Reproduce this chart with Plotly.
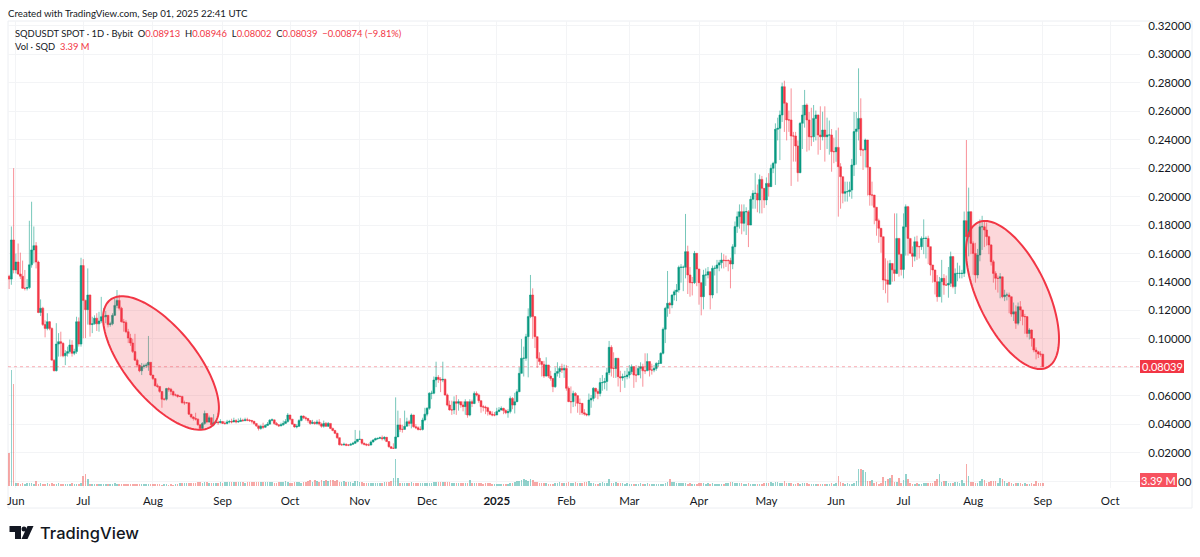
import math
import pandas as pd
import plotly.graph_objects as go

# Each line holds ten days, the first line starts on 2024-05-29
closes = [
.142,.1695,.1484,.154,.1456,.144,.1355,.1355,.136,.152,
.1625,.1655,.154,.1185,.1215,.110,.1073,.112,.1073,.085,
.0776,.0963,.098,.0968,.088,.0898,.091,.0956,.0898,.091,
.112,.0963,.1515,.127,.1205,.1308,.110,.1105,.1145,.1105,
.1125,.1155,.1155,.1165,.110,.1105,.1165,.1235,.127,.1215,
.112,.1115,.105,.1005,.097,.091,.085,.0815,.0775,.0805,
.081,.0815,.0835,.0745,.072,.067,.0665,.063,.0575,.0575,
.065,.0645,.063,.0605,.0605,.0595,.0595,.055,.055,.055,
.047,.045,.044,.0435,.0395,.037,.0405,.0475,.0415,.0445,
.0395,.041,.0415,.041,.0418,.0405,.0405,.0415,.0418,.0415,
.0425,.0415,.0418,.0428,.0425,.043,.0428,.0425,.042,.0405,
.0388,.037,.0385,.0378,.039,.04,.0428,.043,.0405,.0395,
.0388,.0395,.0405,.0418,.0464,.0435,.04,.038,.0385,.0425,
.0457,.0445,.044,.0425,.0405,.0412,.0405,.0415,.04,.0385,
.0405,.0385,.0405,.037,.0355,.0335,.0305,.0255,.0255,.0258,
.0252,.0252,.0258,.0265,.0277,.0293,.0293,.0265,.0258,.0253,
.0253,.0275,.0288,.0298,.03,.0305,.0298,.0307,.0277,.0241,
.023,.023,.031,.0394,.0363,.0363,.0385,.0417,.0405,.0464,
.0382,.0375,.0363,.0363,.0429,.047,.0511,.0617,.0617,.071,
.0729,.0715,.071,.0715,.0605,.0534,.05,.05,.0558,.0547,
.0558,.0535,.0523,.0558,.0464,.0558,.0545,.0616,.0605,.0565,
.0523,.052,.0515,.0488,.047,.0464,.0464,.0488,.05,.0511,
.0495,.048,.0488,.0581,.0534,.0558,.0628,.0757,.0863,.0863,
.1015,.1156,.1308,.1156,.1015,.0863,.084,.082,.0738,.0816,
.0738,.072,.0663,.0757,.077,.0792,.078,.0792,.0652,.0558,
.0558,.0616,.06,.0546,.0546,.048,.0471,.0465,.057,.0581,
.0652,.063,.0616,.0692,.0692,.07,.0762,.094,.0792,.0792,
.0863,.0734,.0725,.0734,.0734,.0745,.0769,.0804,.0745,.0745,
.0792,.0804,.0775,.0775,.084,.078,.078,.0792,.0827,.0827,
.0898,.1067,.1214,.125,.1238,.1308,.1331,.1343,.1503,.1503,
.1503,.1613,.1449,.1395,.1395,.1601,.1491,.1395,.1296,.1449,
.1449,.1472,.1308,.1496,.1496,.1519,.1535,.1554,.155,.155,
.155,.1526,.1648,.1789,.1859,.1894,.1812,.1894,.1894,.18,
.1981,.2023,.2023,.1976,.2121,.2058,.1976,.2093,.207,.2199,
.2234,.2473,.248,.2574,.2773,.2656,.2539,.2539,.2426,.2426,
.2356,.2168,.2515,.2574,.2644,.2539,.2421,.2421,.255,.2574,
.2433,.2421,.2468,.2421,.2433,.2433,.2316,.2316,.2346,.221,
.214,.2023,.2035,.2035,.2046,.2222,.2457,.2475,.255,.2328,
.2328,.2398,.2206,.2011,.2011,.1925,.1831,.1777,.1718,.1413,
.1413,.1383,.153,.1485,.146,.1706,.1595,.1488,.1788,.1929,
.1706,.1601,.158,.1683,.1648,.1648,.1706,.1706,.1706,.1648,
.1519,.1484,.1402,.1296,.1402,.1425,.1378,.1378,.139,.1578,
.1367,.146,.146,.146,.146,.1831,.1718,.1894,.1671,.16,
.1449,.1589,.1788,.1788,.1765,.1718,.166,.1542,.146,.1425,
.1425,.1436,.1296,.1308,.1308,.1296,.1174,.119,.1109,.1226,
.1203,.1156,.1156,.1038,.1062,.1002,.0921,.0909,.0893,.08913,
.08039,
]

highs = [
.145,.179,.220,.160,.167,.1606,.155,.1484,.142,.183,
.1964,.179,.168,.155,.1277,.1225,.113,.118,.1125,.108,
.0855,.111,.104,.105,.0975,.092,.0945,.0995,.099,.093,
.1155,.115,.157,.156,.1275,.1495,.131,.1155,.1165,.118,
.119,.1295,.1215,.1195,.1165,.112,.118,.1285,.1343,.131,
.1225,.114,.113,.107,.1035,.1,.1035,.086,.082,.083,
.0825,.083,.102,.0835,.0745,.072,.0685,.0665,.063,.0585,
.0655,.066,.0655,.0635,.0615,.0608,.06,.0598,.0565,.0555,
.0475,.0465,.0455,.048,.044,.04,.0415,.0495,.0475,.046,
.0445,.047,.0425,.0425,.0435,.042,.042,.043,.043,.0438,
.0445,.0435,.044,.0445,.0438,.0445,.0445,.0435,.043,.042,
.0405,.0385,.0395,.041,.04,.0415,.0435,.044,.043,.0415,
.04,.041,.0425,.0435,.0478,.0465,.0436,.0395,.04,.0435,
.046,.046,.0455,.0442,.0425,.043,.042,.043,.0435,.041,
.0425,.0415,.0415,.0405,.0375,.036,.034,.0305,.0265,.027,
.0265,.026,.0268,.0275,.0359,.0295,.0355,.0295,.027,.0265,
.0265,.0285,.0295,.0305,.0305,.0312,.032,.0315,.031,.028,
.0245,.0265,.0588,.0495,.0442,.0395,.0495,.0445,.043,.0475,
.0465,.04,.0385,.0385,.0445,.0515,.052,.0625,.0635,.0735,
.0839,.0745,.073,.0839,.072,.0615,.0565,.0565,.0595,.0605,
.0575,.0555,.056,.0575,.0558,.0575,.0572,.063,.063,.0615,
.0565,.0535,.053,.0522,.0495,.049,.0485,.0515,.052,.0525,
.0515,.0505,.0505,.0595,.059,.062,.0645,.08,.0999,.0945,
.1035,.1214,.1449,.1355,.1145,.1015,.0905,.0845,.0845,.087,
.0815,.0775,.0725,.0798,.0835,.0808,.0825,.0818,.0815,.0665,
.0665,.0635,.0625,.0605,.058,.0535,.0505,.0475,.0615,.0605,
.066,.0655,.0645,.0725,.0745,.0725,.0795,.0985,.0955,.0905,
.0863,.0795,.0775,.0755,.0775,.0795,.0815,.082,.0805,.0815,
.081,.0835,.0825,.0898,.0898,.0835,.0825,.0815,.0835,.085,
.0905,.108,.1225,.1477,.126,.1312,.1345,.1385,.1515,.1525,
.1515,.1878,.1655,.1505,.1435,.1618,.1575,.148,.136,.1485,
.1495,.1505,.1465,.1515,.1515,.1555,.1555,.1605,.1595,.1585,
.156,.157,.1665,.1825,.1895,.1945,.1945,.1945,.1925,.1905,
.2005,.2045,.2165,.2085,.2155,.2145,.2035,.2135,.2165,.2225,
.2245,.2515,.2555,.2605,.2801,.2815,.2665,.2605,.2761,.2455,
.2455,.2395,.2525,.2644,.275,.2655,.2595,.2625,.2644,.2605,
.2575,.2635,.2597,.2635,.2555,.2535,.2475,.2415,.2466,.2485,
.2235,.2105,.2105,.2105,.2105,.2265,.2595,.2595,.2902,.2691,
.2338,.2408,.2388,.214,.2105,.1955,.1864,.1845,.1725,.1648,
.1566,.155,.1555,.153,.1882,.1882,.1706,.1528,.1882,.1945,
.1935,.1695,.165,.1718,.1725,.1655,.172,.184,.172,.1725,
.1565,.1515,.1445,.1448,.1435,.1555,.1455,.1445,.1505,.1613,
.1575,.1495,.1535,.1515,.1485,.1895,.2398,.2063,.1775,.1685,
.1675,.1632,.184,.1865,.183,.1818,.1725,.1665,.1555,.1475,
.1445,.1462,.1385,.1345,.1325,.1325,.1215,.1255,.1235,.1255,
.1265,.1195,.1175,.1075,.1075,.1065,.0955,.094,.0915,.0913,
.08946,
]

lows = [
.135,.138,.146,.146,.145,.142,.135,.134,.134,.135,
.15,.153,.1495,.118,.116,.109,.101,.106,.106,.085,
.077,.077,.0875,.0875,.087,.0815,.0875,.0895,.0875,.0885,
.0895,.0945,.0945,.1003,.1005,.11,.1015,.104,.11,.1055,
.105,.111,.1125,.111,.108,.1085,.1095,.116,.1215,.12,
.1115,.105,.104,.097,.095,.09,.0845,.08,.0765,.0745,
.079,.0795,.0775,.074,.071,.0665,.0655,.062,.0515,.0565,
.0565,.0628,.0605,.0595,.0595,.0585,.059,.0545,.0535,.0545,
.0465,.044,.0425,.0425,.039,.0365,.0365,.0395,.0405,.041,
.0388,.0385,.0405,.0395,.0405,.04,.0395,.0398,.0405,.0405,
.0415,.0405,.041,.042,.0415,.042,.042,.0415,.0405,.0395,
.038,.0355,.036,.0365,.0375,.039,.0395,.042,.0395,.039,
.038,.0385,.039,.0405,.041,.0425,.0395,.0375,.037,.038,
.042,.0435,.0425,.041,.0395,.04,.0395,.0395,.039,.0375,
.0375,.038,.038,.0365,.035,.033,.0295,.025,.0248,.0248,
.0245,.0245,.025,.0255,.0262,.0272,.029,.0255,.025,.0245,
.0245,.025,.027,.0285,.029,.0295,.0285,.0285,.0275,.0235,
.0225,.0225,.0225,.031,.0345,.034,.0365,.0395,.0385,.037,
.0375,.0365,.0355,.0355,.0355,.042,.0455,.05,.0575,.061,
.066,.069,.0625,.0695,.06,.0525,.0495,.0465,.047,.0465,
.0495,.0515,.049,.0465,.0445,.0455,.052,.054,.0595,.055,
.048,.049,.047,.046,.0462,.0455,.0455,.047,.0488,.0495,
.047,.047,.0445,.0475,.0505,.0475,.0555,.0625,.0755,.0735,
.0845,.0729,.1145,.1,.0935,.0795,.0815,.0735,.0725,.0735,
.0725,.0705,.0625,.0655,.0735,.0725,.076,.0725,.0635,.0555,
.0476,.052,.0525,.048,.0465,.0465,.046,.0455,.0455,.0515,
.056,.0585,.0575,.0595,.0635,.0645,.0635,.0745,.0735,.0725,
.0725,.0665,.0625,.0705,.0655,.0715,.0722,.075,.0655,.0695,
.0745,.0722,.0663,.0752,.0775,.0735,.0748,.0765,.0775,.0805,
.0825,.089,.097,.1155,.1175,.1215,.127,.1265,.1325,.1395,
.1335,.1425,.1315,.1296,.1305,.1385,.137,.124,.1165,.1207,
.1372,.1425,.1207,.1285,.1445,.132,.1475,.1495,.1495,.1505,
.1475,.1355,.149,.1595,.1745,.1775,.1735,.1755,.173,.1645,
.1835,.1915,.1915,.189,.1882,.1882,.192,.194,.2,.2085,
.2165,.2082,.2395,.2257,.2525,.2455,.2395,.2455,.2075,.2246,
.2246,.2105,.2165,.2335,.2485,.2316,.2325,.2355,.2385,.2395,
.2295,.2328,.2395,.2246,.2335,.2295,.2175,.2235,.2245,.1859,
.1915,.1953,.1965,.1965,.2,.1985,.2145,.2225,.2395,.2285,
.2187,.2205,.2008,.1936,.1936,.1805,.1725,.1675,.1605,.1343,
.132,.1254,.142,.1402,.1405,.1455,.1437,.1445,.1425,.1585,
.1585,.1595,.1505,.1545,.1555,.1565,.1625,.1595,.1565,.1525,
.1445,.1395,.1312,.1261,.1305,.1255,.131,.1375,.1289,.1365,
.1355,.1315,.1405,.1425,.1425,.1435,.1605,.158,.1595,.145,
.1395,.1425,.1545,.1625,.1645,.1655,.1595,.1515,.1395,.1345,
.1325,.1285,.1285,.1265,.127,.118,.1155,.1125,.107,.1095,
.1125,.1095,.1035,.101,.0995,.0945,.0905,.0855,.0865,.0875,
.08002,
]

# Volume in millions of SQD
volumes = [
33,116,102,3,3,2,3,2,3,3,
3,2,5,2,3,2,2,3,2,3,
2,2,3,2,2,2,2,2,3,2,
2,2,3,10,12,7,2,2,2,2,
2,2,2,2,2,2,2,3,2,2,
2,2,2,2,2,2,2,2,2,2,
2,2,2,2,2,2,2,2,1,2,
2,1,2,1,2,2,3,3,3,3,
3,3,3,3,4,4,3,4,4,3,
3,3,3,3,4,3,4,4,4,4,
4,4,4,4,4,3,4,4,4,4,
4,4,4,4,4,4,4,4,3,3,
4,4,4,5,4,3,3,4,4,4,
3,4,4,5,6,4,6,5,4,6,
5,6,5,6,6,5,6,4,4,5,
4,4,4,3,5,5,4,4,3,3,
3,3,3,3,3,3,3,4,4,4,
5,8,27,8,3,3,3,3,3,4,
3,3,3,3,3,3,3,3,3,4,
4,4,4,4,4,4,4,3,3,3,
3,3,3,3,3,6,3,3,3,3,
3,2,3,3,3,2,2,2,2,2,
2,2,2,3,3,4,5,5,6,7,
6,5,7,6,4,4,3,3,3,3,
2,2,2,3,3,4,3,3,3,4,
3,3,4,3,3,3,4,4,5,3,
3,2,2,3,4,3,3,7,3,3,
4,3,3,3,2,3,2,2,2,2,
2,3,2,2,3,2,2,2,2,2,
2,2,3,4,7,4,4,3,3,3,
3,3,2,3,2,2,2,3,3,3,
2,3,2,3,2,2,2,2,2,3,
3,4,4,3,3,3,3,2,2,3,
2,2,2,2,2,2,3,3,3,4,
3,4,4,3,3,5,3,3,3,2,
2,3,2,3,3,3,2,2,2,2,
2,2,2,2,2,2,3,2,3,10,
4,3,2,3,2,2,3,5,17,17,
16,14,5,5,6,3,4,2,3,9,
5,7,8,11,4,4,8,3,6,12,
7,3,2,2,3,2,2,3,3,3,
3,3,5,7,12,4,5,5,3,3,
3,4,4,3,6,3,22,10,4,4,
3,3,5,7,6,3,4,5,5,5,
3,8,7,5,3,4,3,2,3,3,
3,2,3,2,2,3,2,5,3,3,
3.39,
]

first_open = 0.144
last_close = 0.08039
last_volume = 3.39
start_date = "2024-05-29"

price_ticks = [0, .02, .04, .06, .08, .10, .12, .14, .16, .18, .20, .22, .24, .26, .28, .30, .32]
# 0.08000 sits under the last-price tag and 0.00000 mostly under the volume tag, as in the reference
hidden_price_ticks = [0, .08]
month_ticks = ["2024-06-01","2024-07-01","2024-08-01","2024-09-01","2024-10-01","2024-11-01",
               "2024-12-01","2025-01-01","2025-02-01","2025-03-01","2025-04-01","2025-05-01",
               "2025-06-01","2025-07-01","2025-08-01","2025-09-01","2025-10-01"]
month_labels = ["Jun","Jul","Aug","Sep","Oct","Nov","Dec","<b>2025</b>","Feb","Mar","Apr","May",
                "Jun","Jul","Aug","Sep","Oct"]

assert len(closes) == len(highs) == len(lows) == len(volumes), (len(closes), len(highs), len(lows), len(volumes))

dates = pd.date_range(start_date, periods=len(closes), freq="D")
opens = [first_open] + closes[:-1]
highs_safe = [max(h, o, c) for h, o, c in zip(highs, opens, closes)]
lows_safe = [min(l, o, c) for l, o, c in zip(lows, opens, closes)]

UP, DOWN = "#089981", "#F23645"
FONT = "Lato"
INK = "#131722"

PL, PR, PT, PB = 8, 1140, 21, 488
def px(x): return (x - PL) / (PR - PL)
def py(y): return (PB - y) / (PB - PT)

def ellipse(cx, cy, a, b, deg):
    t = math.radians(deg)
    pts = []
    for k in range(121):
        u = 2 * math.pi * k / 120
        x = cx + a * math.cos(u) * math.cos(t) - b * math.sin(u) * math.sin(t)
        y = cy + a * math.cos(u) * math.sin(t) + b * math.sin(u) * math.cos(t)
        pts.append(f"{px(x):.5f},{py(y):.5f}")
    return "M" + " L".join(pts) + " Z"

def poly(points):
    return "M" + " L".join(f"{px(x):.5f},{py(y):.5f}" for x, y in points) + " Z"

fig = go.Figure()
vol_colors = ["rgba(38,166,154,0.5)" if c >= o else "rgba(239,83,80,0.5)" for o, c in zip(opens, closes)]
fig.add_trace(go.Bar(x=dates, y=volumes, yaxis="y2", marker=dict(color=vol_colors, line_width=0),
                     width=86400000 * 0.7, hoverinfo="skip", showlegend=False))
fig.add_trace(go.Candlestick(
    x=dates, open=opens, high=highs_safe, low=lows_safe, close=closes,
    increasing=dict(line=dict(color="rgba(8,153,129,0.55)", width=1), fillcolor=UP),
    decreasing=dict(line=dict(color="rgba(242,54,69,0.55)", width=1), fillcolor=DOWN),
    whiskerwidth=0, showlegend=False, yaxis="y"))

shapes = [
    dict(type="rect", xref="paper", yref="paper", x0=px(8), x1=px(1192), y0=py(508), y1=py(21),
         line=dict(color="#eceef2", width=1), fillcolor="rgba(0,0,0,0)", layer="below"),
    dict(type="line", xref="paper", yref="y", x0=0, x1=1, y0=last_close, y1=last_close,
         line=dict(color="rgba(242,54,69,0.4)", width=1, dash="dot"), layer="above"),
    dict(type="path", xref="paper", yref="paper", path=ellipse(161, 363, 81, 35.4, 51),
         fillcolor="rgba(242,54,69,0.2)", line=dict(color=DOWN, width=2), layer="above"),
    dict(type="path", xref="paper", yref="paper", path=ellipse(1012.5, 295, 80.3, 34.6, 64.6),
         fillcolor="rgba(242,54,69,0.2)", line=dict(color=DOWN, width=2), layer="above"),
    dict(type="rect", xref="paper", yref="paper", x0=px(1140), x1=px(1184), y0=py(373), y1=py(360),
         fillcolor=DOWN, line_width=0, layer="above"),
    dict(type="rect", xref="paper", yref="paper", x0=px(1140), x1=px(1177), y0=py(487), y1=py(473),
         fillcolor="#F7525F", line_width=0, layer="above"),
    # TradingView mark
    dict(type="path", xref="paper", yref="paper", fillcolor="#131722", line_width=0, layer="above",
         path=poly([(9.5,526),(21,526),(21,539),(15,539),(15,532),(9.5,532)])),
    dict(type="path", xref="paper", yref="paper", fillcolor="#131722", line_width=0, layer="above",
         path=poly([(27.5,526),(33.5,526),(27.5,539),(21.5,539)])),
    dict(type="circle", xref="paper", yref="paper", x0=px(21.5), x1=px(26.5), y0=py(531.5), y1=py(526.5),
         fillcolor="#131722", line_width=0, layer="above"),
]

def note(x, y, text, size=10.5, color=INK, anchor="left", family=FONT):
    return dict(xref="paper", yref="paper", x=px(x), y=py(y), text=text, showarrow=False, xanchor=anchor,
                yanchor="middle", font=dict(family=family, size=size, color=color), align="left",
                borderpad=0, borderwidth=0)

R = "#F23645"
header = ("SQDUSDT SPOT · 1D · Bybit&nbsp;&nbsp;"
          f"O<span style='color:{R}'>0.08913</span>&nbsp;&nbsp;H<span style='color:{R}'>0.08946</span>&nbsp;&nbsp;"
          f"L<span style='color:{R}'>0.08002</span>&nbsp;&nbsp;C<span style='color:{R}'>0.08039</span>&nbsp;&nbsp;"
          f"<span style='color:{R}'>−0.00874 (−9.81%)</span>")
annotations = [
    note(8, 13, "Created with TradingView.com, Sep 01, 2025 22:41 UTC", 9.7),
    note(15, 34, header, 9.4),
    note(15, 47, f"Vol · SQD&nbsp;&nbsp;<span style='color:{R}'>3.39 M</span>", 9.4),
    note(1162, 366.5, f"{last_close:.5f}", 11, "white", "center"),
    note(1158.5, 480, f"{last_volume:.2f} M", 11, "white", "center"),
    note(1177.5, 481, "00", 11.5),
    note(39.5, 533, "TradingView", 16.5, "#131722", family="Inter"),
]
annotations[-1]["font"]["weight"] = 500

fig.update_layout(
    width=1200, height=557, autosize=False,
    margin=dict(l=PL, r=1200 - PR, t=PT, b=557 - PB, pad=0),
    paper_bgcolor="white", plot_bgcolor="white",
    showlegend=False, bargap=0, boxgap=0.2, boxgroupgap=0,
    font=dict(family=FONT, size=11.5, color=INK),
    hovermode=False,
    xaxis=dict(type="date", range=["2024-05-28 12:00", "2025-10-14 06:00"], tickvals=month_ticks,
               ticktext=month_labels, showgrid=True, gridcolor="#f3f4f6", gridwidth=1, zeroline=False,
               showline=False, ticks="outside", ticklen=2, tickcolor="rgba(0,0,0,0)",
               tickfont=dict(family=FONT, size=11.5, color=INK), rangeslider=dict(visible=False), tickangle=0),
    yaxis=dict(side="right", range=[-0.00492, 0.32349], tickvals=price_ticks,
               ticktext=["" if v in hidden_price_ticks else f"{v:.5f}" for v in price_ticks],
               showgrid=True, gridcolor="#f3f4f6", gridwidth=1,
               zeroline=False, showline=False, ticks="outside", ticklen=5, tickcolor="rgba(0,0,0,0)",
               tickfont=dict(family=FONT, size=11.5, color=INK)),
    yaxis2=dict(overlaying="y", range=[-2, 465], visible=False, side="right"),
    shapes=shapes, annotations=annotations,
)

fig.write_html("out.html", config={"displayModeBar": False},
               post_script="document.body.style.margin='0';document.body.style.overflow='hidden';")
